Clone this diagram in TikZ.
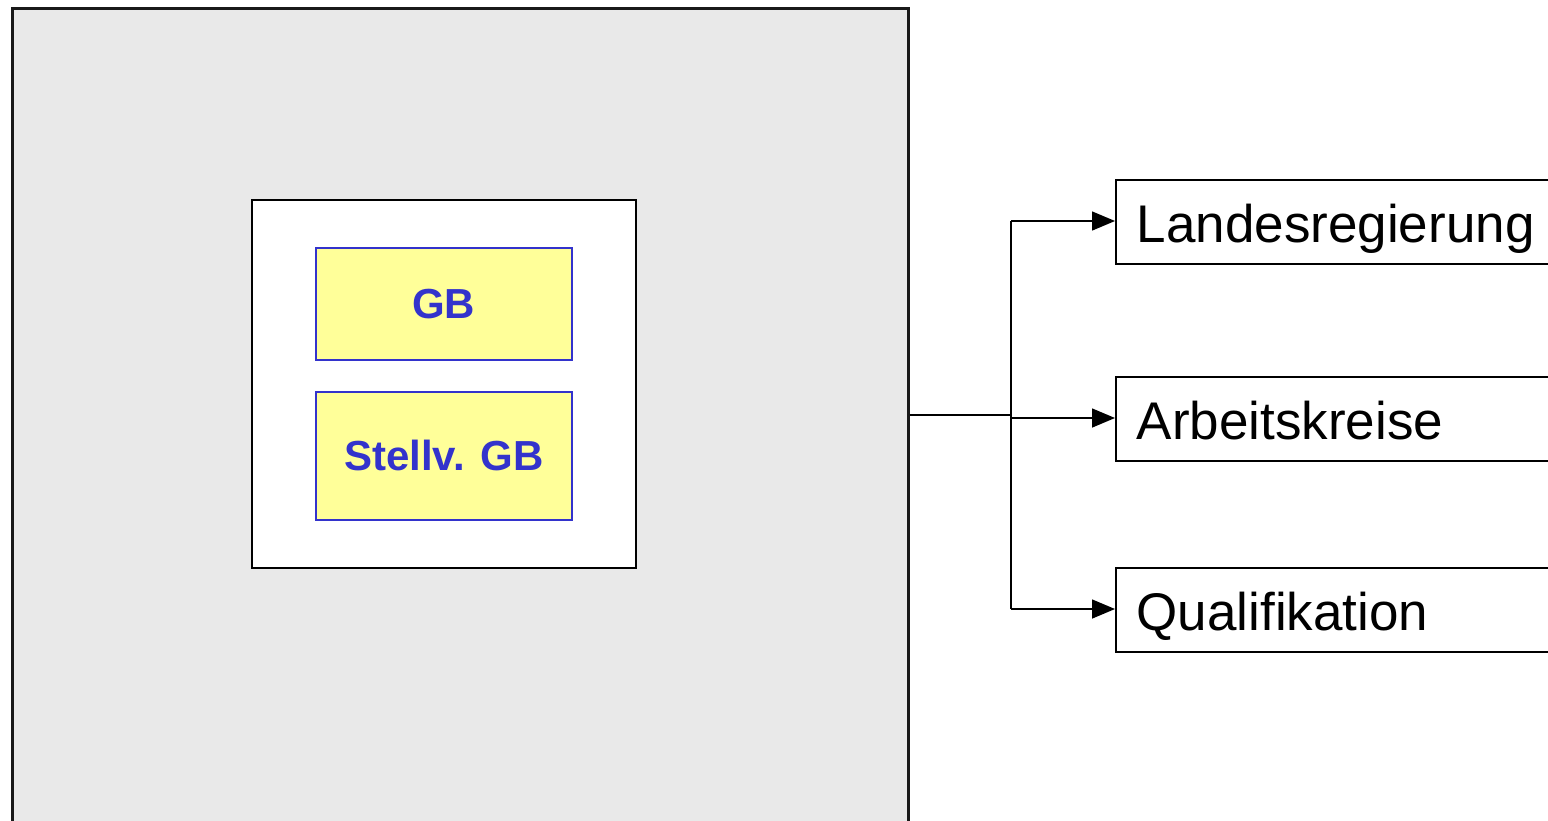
\documentclass[tikz,border=0pt]{standalone}
\usepackage{fontspec}
\setmainfont{Liberation Sans}
\usetikzlibrary{arrows.meta}
\definecolor{bggray}{HTML}{E9E9E9}
\definecolor{gbyellow}{HTML}{FFFF99}
\definecolor{gbblue}{HTML}{3333CC}
\tikzset{
  gbbox/.style={draw=gbblue, line width=1.5pt, fill=gbyellow, text=gbblue, font=\fontsize{42}{46}\selectfont\bfseries, anchor=north west, inner sep=0pt},
  target/.style={draw=black, line width=1.5pt, fill=white, anchor=north west, minimum height=84pt, text width=420pt, align=left, inner xsep=21pt, inner ysep=0pt, text height=42pt, text depth=0pt, font=\fontsize{53}{57}\selectfont},
  conn/.style={line width=1.5pt, -{Triangle[length=23pt,width=19pt]}}
}
\begin{document}
\begin{tikzpicture}[x=1pt,y=-1pt]
\useasboundingbox (0,0) rectangle (1548,820);
\begin{scope}
\clip (0,0) rectangle (1548,820);
\node[draw=black!90, line width=2.5pt, fill=bggray, anchor=north west, minimum width=896pt, minimum height=830pt, inner sep=0pt] (outer) at (11,7) {};
\node[draw=black, line width=1.5pt, fill=white, anchor=north west, minimum width=384pt, minimum height=368pt, inner sep=0pt] (inner) at (251,199) {};
\node[gbbox, minimum width=256pt, minimum height=112pt] (gb) at (315,247) {GB};
\node[gbbox, minimum width=256pt, minimum height=128pt] (stv) at (315,391) {Stellv. GB};
\node[target] (lr) at (1115,179) {Landesregierung};
\node[target] (ak) at (1115,376) {Arbeitskreise};
\node[target] (qu) at (1115,567) {Qualifikation};
\coordinate (j) at (1011,415);
\coordinate (jt) at (1011,221);
\coordinate (jm) at (1011,418);
\coordinate (jb) at (1011,609);
\draw[line width=2.5pt] (outer.east |- j) -- (j);
\draw[line width=1.5pt] (jt) -- (jb);
\draw[conn] (jt) -- (lr.west |- jt);
\draw[conn] (jm) -- (ak.west |- jm);
\draw[conn] (jb) -- (qu.west |- jb);
\end{scope}
\end{tikzpicture}
\end{document}
